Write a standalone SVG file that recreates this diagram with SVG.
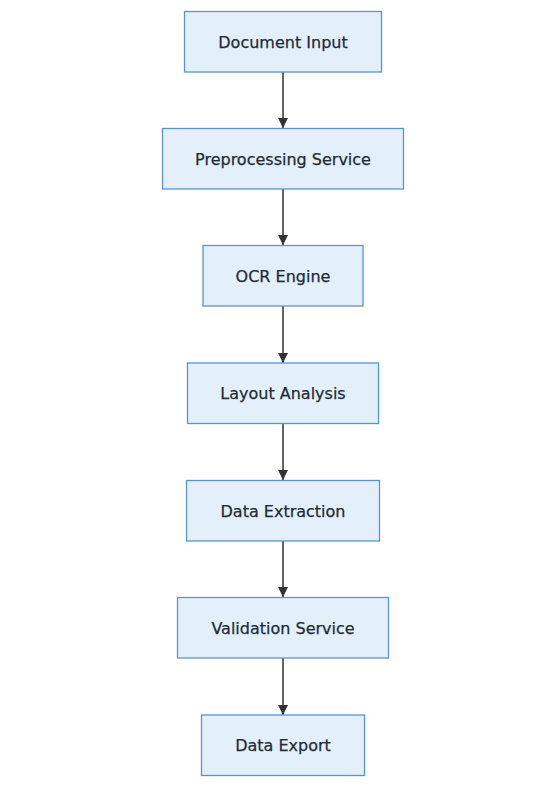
<svg xmlns="http://www.w3.org/2000/svg" width="536" height="789" viewBox="0 0 536 789">
<defs>
<style>
.node rect{fill:#e3f0fc;stroke:#5b93cc;stroke-width:1.3}
.node text{font-family:"DejaVu Sans","Noto Sans",sans-serif;font-size:16px;fill:#222b36;text-anchor:middle;dominant-baseline:central;stroke:#222b36;stroke-width:0.25}
.edge{stroke:#555;stroke-width:1.8;fill:none}
</style>
<marker id="arr" viewBox="0 0 10 10" refX="10" refY="5" markerWidth="10" markerHeight="10" markerUnits="userSpaceOnUse" orient="auto">
<path d="M0,0 L10,5 L0,10 z" fill="#333"/>
</marker>
</defs>
<rect width="536" height="789" fill="#fff"/>
<g id="edges">
<line class="edge" x1="283" y1="72" x2="283" y2="128" marker-end="url(#arr)"/>
<line class="edge" x1="283" y1="189" x2="283" y2="245" marker-end="url(#arr)"/>
<line class="edge" x1="283" y1="306" x2="283" y2="363" marker-end="url(#arr)"/>
<line class="edge" x1="283" y1="424" x2="283" y2="480" marker-end="url(#arr)"/>
<line class="edge" x1="283" y1="541" x2="283" y2="597" marker-end="url(#arr)"/>
<line class="edge" x1="283" y1="658" x2="283" y2="715" marker-end="url(#arr)"/>
</g>
<g id="n1" class="node"><rect x="184.5" y="11.5" width="197" height="60.5"/><text x="283" y="42">Document Input</text></g>
<g id="n2" class="node"><rect x="162.5" y="128.5" width="241" height="60.5"/><text x="283" y="159">Preprocessing Service</text></g>
<g id="n3" class="node"><rect x="203" y="245.5" width="160" height="60.5"/><text x="283" y="276">OCR Engine</text></g>
<g id="n4" class="node"><rect x="187.5" y="363" width="191" height="60.5"/><text x="283" y="393.5">Layout Analysis</text></g>
<g id="n5" class="node"><rect x="186.5" y="480.5" width="193" height="60.5"/><text x="283" y="511">Data Extraction</text></g>
<g id="n6" class="node"><rect x="177.5" y="597.5" width="211" height="60.5"/><text x="283" y="628">Validation Service</text></g>
<g id="n7" class="node"><rect x="201.5" y="715" width="163" height="60.5"/><text x="283" y="745.5">Data Export</text></g>
</svg>
